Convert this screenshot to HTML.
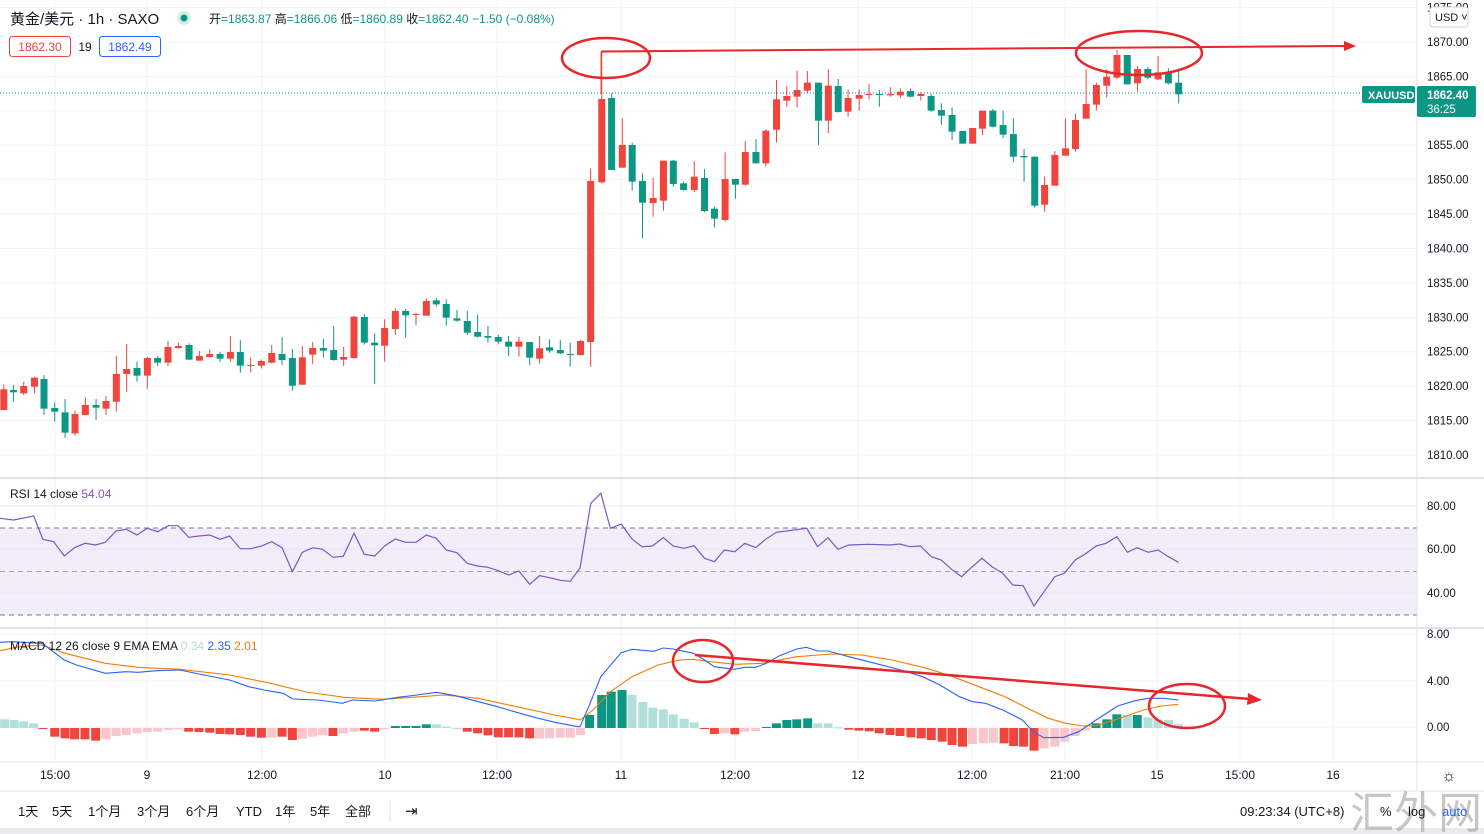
<!DOCTYPE html>
<html><head><meta charset="utf-8"><style>
html,body{margin:0;padding:0;background:#fff;}
body{width:1484px;height:834px;overflow:hidden;position:relative;font-family:"Liberation Sans","Noto Sans CJK SC",sans-serif;}
svg{position:absolute;left:0;top:0;}
</style></head><body>
<svg id="s" width="1484" height="834" xmlns="http://www.w3.org/2000/svg" font-family="Liberation Sans, Noto Sans CJK SC, sans-serif"></svg>
<script>
const S=document.getElementById('s');let h='';
const R='#f0443c',G='#0c9684',LT='#b2dfdb',PK='#fbc5cc',RS='#7e57c2';
// grids
const py=p=>42+(1870-p)*6.883;
h+='<rect x="1417" y="0" width="67" height="834" fill="#fff"/>';
for(let p=1810;p<=1875;p+=5){const y=py(p);h+=`<line x1="0" x2="1417" y1="${y}" y2="${y}" stroke="#f0f3fa"/>`;}
[55,147,262,385,497,621,735,858,972,1065,1157,1240,1333].forEach(x=>{h+=`<line x1="${x}" x2="${x}" y1="0" y2="762" stroke="#f0f3fa"/>`;});
// RSI pane
h+=`<rect x="0" y="528" width="1417" height="87" fill="#ede8f7" opacity="0.8"/>`;
[528,615].forEach(y=>h+=`<line x1="0" x2="1417" y1="${y}" y2="${y}" stroke="#787b86" stroke-dasharray="5,4"/>`);
h+=`<line x1="0" x2="1417" y1="571.5" y2="571.5" stroke="#a0a0b0" stroke-dasharray="5,4"/>`;
[506,549,593].forEach(y=>h+=`<line x1="0" x2="1417" y1="${y}" y2="${y}" stroke="#e8e8f2"/>`);
[634,681,727].forEach(y=>h+=`<line x1="0" x2="1417" y1="${y}" y2="${y}" stroke="#f0f3fa"/>`);
// separators
h+=`<line x1="0" x2="1484" y1="478" y2="478" stroke="#e0e3eb" stroke-width="2"/>`;
h+=`<line x1="0" x2="1484" y1="628" y2="628" stroke="#e0e3eb" stroke-width="2"/>`;
h+=`<line x1="0" x2="1484" y1="762" y2="762" stroke="#e0e3eb"/>`;
h+=`<line x1="1417" x2="1417" y1="0" y2="790" stroke="#e0e3eb"/>`;
h+=`<line x1="0" x2="1484" y1="791" y2="791" stroke="#e0e3eb"/>`;
h+=`<rect x="0" y="828" width="1484" height="6" fill="#e9ebf0"/>`;
// candles zoom4: x=zx/2.613, y=280+z/3
const c4=[[10,'R',328,390,313,390],[35,'G',330,337,315,365],[62,'R',318,340,305,345],[90,'R',293,320,290,340],[115,'G',297,386,285,405],[143,'G',384,395,367,425],[170,'G',397,458,357,473],[196,'R',402,460,392,467],[223,'R',375,405,352,405],[251,'G',375,383,357,420],[277,'R',363,386,348,405],[304,'R',282,365,228,395],[331,'R',267,282,192,335],[358,'G',264,287,245,305],[385,'R',234,287,230,326],[412,'G',234,248,228,258],[439,'R',201,248,183,258],[466,'R',198,204,188,206],[494,'G',195,239,190,240],[521,'R',228,242,213,242],[548,'R',222,231,208,233],[575,'G',222,236,216,246],[602,'R',216,236,168,246],[628,'G',216,257,180,278],[655,'R',255,257,232,278],[683,'R',243,257,238,265],[710,'R',219,248,195,250],[737,'G',222,240,171,255],[764,'G',234,317,207,332],[790,'R',232,314,198,314],[817,'R',204,224,186,252],[845,'G',204,212,177,233],[872,'G',210,240,138,242],[898,'R',231,239,201,258],[925,'R',110,234,108,236],[952,'G',111,188,102,194],[979,'G',188,196,160,312],[1005,'R',144,197,118,245],[1033,'R',93,147,85,165],[1060,'G',93,106,87,173],[1087,'R',102,104,98,135],[1114,'R',63,107,55,107],[1140,'G',61,73,54,80],[1166,'G',72,113,58,137],[1194,'G',115,122,90,125],[1221,'G',123,158,93,165],[1248,'G',156,170,104,172],[1275,'G',168,173,138,188],[1302,'G',171,185,164,193],[1329,'G',185,200,168,228],[1356,'R',185,200,171,230],[1384,'G',186,233,186,255],[1410,'R',205,236,168,251],[1436,'G',202,212,178,218],[1464,'G',210,220,180,222],[1490,'G',222,224,188,260],[1517,'R',183,225,180,226]];
const c5=[[27,'R',423,906,385,981],[55,'R',177,427,35,430],[80,'G',174,390,160,390],[107,'R',315,383,235,383],[132,'G',315,425,308,452],[158,'G',423,488,400,595],[185,'R',474,489,413,530],[211,'R',362,482,362,512],[236,'G',362,432,360,440],[262,'G',430,450,425,452],[289,'R',410,450,363,456],[315,'G',414,513,387,517],[340,'G',506,536,500,562],[367,'R',417,540,337,545],[393,'G',417,434,417,476],[418,'R',336,434,303,437],[445,'G',336,370,297,370],[470,'R',272,370,268,380],[497,'R',178,269,120,308],[523,'R',168,182,138,200],[549,'R',150,170,92,203],[575,'R',128,152,93,160],[603,'G',128,242,128,315],[628,'R',137,242,88,280],[653,'G',138,216,117,218],[678,'R',174,215,148,230],[706,'R',165,176,148,212],[731,'R',162,165,132,178],[757,'G',162,165,150,200],[785,'R',162,166,142,170],[810,'R',155,166,145,175],[836,'G',153,170,145,172],[862,'R',162,168,157,182],[888,'G',168,212,162,216],[914,'G',210,227,190,255],[941,'G',225,275,202,300],[968,'G',273,311,273,311],[993,'R',264,311,264,311],[1018,'R',212,266,212,285],[1044,'G',212,260,207,262],[1070,'G',255,284,212,295],[1096,'G',282,350,235,367],[1123,'G',348,352,327,425],[1150,'G',350,497,350,503],[1175,'R',435,494,410,515],[1201,'R',345,437,333,437],[1228,'R',325,347,235,347],[1253,'R',240,327,220,335],[1280,'R',192,236,88,236],[1306,'R',135,194,128,211],[1332,'R',110,137,88,172],[1358,'R',45,113,30,118],[1384,'G',45,133,45,133],[1410,'R',87,130,78,155],[1436,'G',87,113,80,118],[1462,'R',97,118,48,120],[1488,'G',97,130,85,133],[1514,'G',128,163,85,190]];
function cand(x,c,bt,bb,wt,wb){const col=c=='R'?R:G;h+=`<line x1="${x}" x2="${x}" y1="${wt}" y2="${wb}" stroke="${col}" stroke-width="1"/>`;h+=`<rect x="${x-3.5}" y="${bt}" width="7" height="${Math.max(1,bb-bt)}" fill="${col}"/>`;}
c4.forEach(a=>cand(a[0]/2.613,a[1],280+a[2]/3,280+a[3]/3,280+a[4]/3,280+a[5]/3));
c5.forEach(a=>cand(580+a[0]/2.529,a[1],40+a[2]/3,40+a[3]/3,40+a[4]/3,40+a[5]/3));
// current price dotted
h+=`<line x1="0" x2="1362" y1="93" y2="93" stroke="#0c9684" stroke-dasharray="1,2"/>`;
// RSI line
const r6=[[0,115],[35,120],[88,108],[112,178],[140,185],[168,228],[195,203],[222,190],[250,195],[275,187],[303,153],[330,148],[358,165],[385,145],[412,155],[440,137],[465,137],[493,172],[520,168],[548,165],[575,178],[600,168],[628,206],[655,206],[683,198],[710,185],[737,203],[764,275],[790,217],[817,203],[843,208],[870,232],[897,229],[925,160],[952,223],[979,228],[1005,198],[1033,177],[1060,187],[1087,187],[1114,165],[1140,175],[1166,210],[1194,218],[1221,250],[1248,258],[1275,262],[1302,272],[1329,285],[1356,273],[1384,313],[1410,287],[1436,293],[1464,301],[1490,304],[1517,262]].map(p=>[p[0]/2.613,480+p[1]/3]);
const r7=[[0,265],[25,70],[48,40],[70,145],[95,132],[120,177],[143,200],[167,198],[192,173],[215,198],[240,205],[263,197],[287,235],[310,245],[333,210],[357,215],[380,190],[405,203],[428,178],[453,157],[523,145],[548,200],[572,173],[595,208],[620,195],[665,193],[715,195],[738,192],[760,200],[785,198],[810,230],[833,240],[857,268],[880,290],[903,262],[927,235],[950,260],[975,280],[998,315],[1022,317],[1047,378],[1070,335],[1095,290],[1117,280],[1142,240],[1165,222],[1190,198],[1213,190],[1238,170],[1262,217],[1285,203],[1310,217],[1333,210],[1357,230],[1380,247]].map(p=>[580+p[0]/2.306,480+p[1]/3]);
const pl=(pts,col,w)=>`<polyline fill="none" stroke="${col}" stroke-width="${w}" points="${pts.map(p=>p[0].toFixed(1)+','+p[1].toFixed(1)).join(' ')}"/>`;
h+=pl(r6.concat(r7),RS,1.2);
// MACD histogram
const hb6=[[12,718,LT],[37,720,LT],[62,724,LT],[88,730,LT],[112,746,R],[143,770,R],[170,775,R],[195,778,R],[222,778,R],[250,782,R],[277,778,PK],[303,768,PK],[330,765,PK],[358,760,PK],[385,756,PK],[412,755,PK],[440,750,PK],[465,748,PK],[493,755,R],[520,756,R],[548,758,R],[575,762,R],[600,763,R],[628,765,R],[655,770,R],[683,773,R],[710,773,PK],[737,770,R],[764,780,R],[790,776,PK],[817,770,PK],[843,766,PK],[870,768,R],[897,760,PK],[925,755,PK],[952,752,R],[979,755,R],[1005,748,PK],[1033,738,G],[1060,738,G],[1087,738,G],[1114,733,G],[1140,733,LT],[1166,740,LT],[1194,746,PK],[1221,755,R],[1248,760,R],[1275,766,R],[1302,772,R],[1329,772,R],[1356,772,R],[1384,775,R],[1410,776,PK],[1436,775,PK],[1464,773,PK],[1490,773,PK],[1517,765,PK]];
const hb7=[[0,760,PK],[22,705,G],[50,645,G],[72,635,G],[97,630,G],[120,645,LT],[145,666,LT],[168,683,LT],[192,688,LT],[215,703,LT],[240,716,LT],[263,727,LT],[287,747,R],[310,762,R],[333,760,PK],[357,763,R],[380,755,PK],[405,753,PK],[430,741,G],[453,730,G],[477,720,G],[500,718,G],[525,715,G],[548,730,LT],[572,730,LT],[595,742,LT],[620,749,R],[643,752,R],[667,754,R],[690,760,R],[715,765,R],[738,768,R],[763,772,R],[787,775,R],[810,780,R],[835,785,R],[858,795,R],[882,800,R],[905,792,PK],[930,790,PK],[953,788,PK],[978,790,R],[1000,798,R],[1023,800,R],[1047,812,R],[1070,805,PK],[1095,800,PK],[1118,785,PK],[1142,768,PK],[1165,752,PK],[1190,730,G],[1215,718,G],[1238,703,G],[1262,705,LT],[1285,705,G],[1310,712,LT],[1333,718,LT],[1357,720,LT],[1380,733,LT]];
function bar(x,zy,col){const y=480+zy/3,z=728;h+=`<rect x="${x-4.5}" y="${Math.min(y,z)}" width="9" height="${Math.max(1,Math.abs(y-z))}" fill="${col}"/>`;}
hb6.forEach(b=>bar(b[0]/2.613,b[1],b[2]));hb7.slice(1).forEach(b=>bar(580+b[0]/2.306,b[1],b[2]));
const mb6=[[0,487],[30,485],[110,490],[168,540],[200,555],[275,580],[330,575],[360,577],[410,572],[470,570],[520,582],[600,600],[650,620],[690,630],[710,634],[740,640],[765,657],[830,660],[870,666],[895,670],[920,660],[980,663],[1040,652],[1090,645],[1140,637],[1190,647],[1250,665],[1300,680],[1350,697],[1390,710],[1450,727],[1510,740]].map(p=>[p[0]/2.613,480+p[1]/3]);
const mo6=[[0,512],[50,500],[110,495],[170,520],[275,550],[360,562],[470,568],[600,585],[700,608],[800,636],[900,652],[1000,658],[1100,650],[1160,645],[1250,655],[1350,680],[1450,705],[1510,718]].map(p=>[p[0]/2.613,480+p[1]/3]);
const mb7=[[0,740],[20,680],[48,590],[95,518],[120,508],[170,514],[192,504],[215,507],[262,520],[287,540],[310,560],[355,568],[380,562],[405,562],[430,550],[460,527],[500,507],[522,502],[548,513],[572,513],[620,530],[680,550],[740,570],[790,590],[830,615],[875,650],[905,665],[935,670],[975,690],[1020,720],[1045,755],[1070,773],[1115,772],[1150,755],[1190,720],[1240,678],[1280,662],[1310,655],[1345,655],[1380,660]].map(p=>[580+p[0]/2.306,480+p[1]/3]);
const mo7=[[0,720],[30,690],[70,635],[120,590],[180,555],[230,540],[262,538],[300,545],[360,553],[420,550],[500,530],[580,522],[650,525],[720,540],[800,565],[860,590],[920,620],[980,650],[1040,690],[1080,715],[1120,730],[1160,738],[1190,737],[1240,717],[1300,690],[1340,678],[1380,673]].map(p=>[580+p[0]/2.306,480+p[1]/3]);
h+=pl(mo6.concat(mo7),'#f57c00',1.1);h+=pl(mb6.concat(mb7),'#2962ff',1.1);
// annotations
const AR='#e8262b';
h+=`<line x1="601" y1="52" x2="601" y2="94" stroke="${R}"/>`;
h+=`<line x1="601" y1="51.5" x2="1345" y2="46" stroke="${AR}" stroke-width="2"/><polygon points="1356,46 1344,41 1344,51" fill="${AR}"/>`;
h+=`<ellipse cx="606" cy="58" rx="44" ry="20" fill="none" stroke="${AR}" stroke-width="2.5"/>`;
h+=`<ellipse cx="1139" cy="53" rx="63" ry="22" fill="none" stroke="${AR}" stroke-width="2.5"/>`;
h+=`<line x1="695" y1="655" x2="1250" y2="699" stroke="${AR}" stroke-width="2.5"/><polygon points="1262,700 1248,693 1247,705" fill="${AR}"/>`;
h+=`<ellipse cx="703" cy="661" rx="30" ry="21" fill="none" stroke="${AR}" stroke-width="2.5"/>`;
h+=`<ellipse cx="1187" cy="706" rx="38" ry="22" fill="none" stroke="${AR}" stroke-width="2.5"/>`;
// right axis labels
const T=(x,y,t,o)=>{h+=`<text x="${x}" y="${y}" ${o||''}>${t}</text>`;};
const ax='font-size="11.5" fill="#131722"';
for(let p=1810;p<=1875;p+=5){T(1427,py(p)+4,p.toFixed(2),ax);}
[[506,'80.00'],[549,'60.00'],[593,'40.00']].forEach(a=>T(1427,a[0]+4,a[1],ax));
[[634,'8.00'],[681,'4.00'],[727,'0.00']].forEach(a=>T(1427,a[0]+4,a[1],ax));
h+=`<rect x="1430" y="7" width="38" height="20" rx="3" fill="#fff" stroke="#d1d4dc"/>`;T(1435,21,'USD ˅','font-size="11" fill="#131722"');
h+=`<rect x="1362" y="86" width="53" height="17" rx="2" fill="#0c9684"/>`;T(1368,99,'XAUUSD','font-size="11" font-weight="bold" fill="#fff"');
h+=`<rect x="1417" y="86" width="59" height="31" rx="2" fill="#0c9684"/>`;T(1427,99,'1862.40','font-size="11.5" font-weight="bold" fill="#fff"');T(1427,113,'36:25','font-size="11.5" fill="#fff"');
// time axis
[[55,'15:00'],[147,'9'],[262,'12:00'],[385,'10'],[497,'12:00'],[621,'11'],[735,'12:00'],[858,'12'],[972,'12:00'],[1065,'21:00'],[1157,'15'],[1240,'15:00'],[1333,'16']].forEach(a=>T(a[0],779,a[1],'font-size="12" fill="#131722" text-anchor="middle"'));
T(1449,781,'☼','font-size="16" fill="#131722" text-anchor="middle"');
// header
T(10,24,'黄金/美元 · 1h · SAXO','font-size="15" fill="#131722"');
h+=`<circle cx="184" cy="18" r="7" fill="#d6efec"/><circle cx="184" cy="18" r="3.5" fill="#0c9684"/>`;
h+=`<text x="209" y="23" font-size="12" fill="#131722">开<tspan fill="#0c9684">=1863.87</tspan> 高<tspan fill="#0c9684">=1866.06</tspan> 低<tspan fill="#0c9684">=1860.89</tspan> 收<tspan fill="#0c9684">=1862.40 −1.50 (−0.08%)</tspan></text>`;
h+=`<rect x="9.5" y="36.5" width="61" height="20" rx="3" fill="#fff" stroke="#f0443c"/>`;T(40,51,'1862.30','font-size="12" fill="#f0443c" text-anchor="middle"');
T(85,51,'19','font-size="12" fill="#131722" text-anchor="middle"');
h+=`<rect x="99.5" y="36.5" width="61" height="20" rx="3" fill="#fff" stroke="#2962ff"/>`;T(130,51,'1862.49','font-size="12" fill="#2962ff" text-anchor="middle"');
T(10,498,'RSI 14 close <tspan fill="#7e57c2">54.04</tspan>','font-size="12" fill="#131722"');
T(10,650,'MACD 12 26 close 9 EMA EMA <tspan fill="#b2dfdb">0.34</tspan> <tspan fill="#2962ff">2.35</tspan> <tspan fill="#f57c00">2.01</tspan>','font-size="12" fill="#131722"');
// bottom toolbar
[[18,'1天'],[52,'5天'],[88,'1个月'],[137,'3个月'],[186,'6个月'],[236,'YTD'],[275,'1年'],[310,'5年'],[345,'全部']].forEach(a=>T(a[0],816,a[1],'font-size="13" fill="#131722"'));
h+=`<line x1="390" x2="390" y1="800" y2="822" stroke="#e0e3eb"/>`;
T(405,816,'⇥','font-size="15" fill="#131722"');
T(1240,816,'09:23:34 (UTC+8)','font-size="13" fill="#131722"');
T(1350,828,'汇外网','font-size="44" fill="#9a9a9a" opacity="0.55"');
T(1380,816,'%','font-size="13" fill="#131722"');T(1408,816,'log','font-size="13" fill="#131722"');T(1442,816,'auto','font-size="13" fill="#2962ff"');
S.innerHTML=h;
</script>
</body></html>
